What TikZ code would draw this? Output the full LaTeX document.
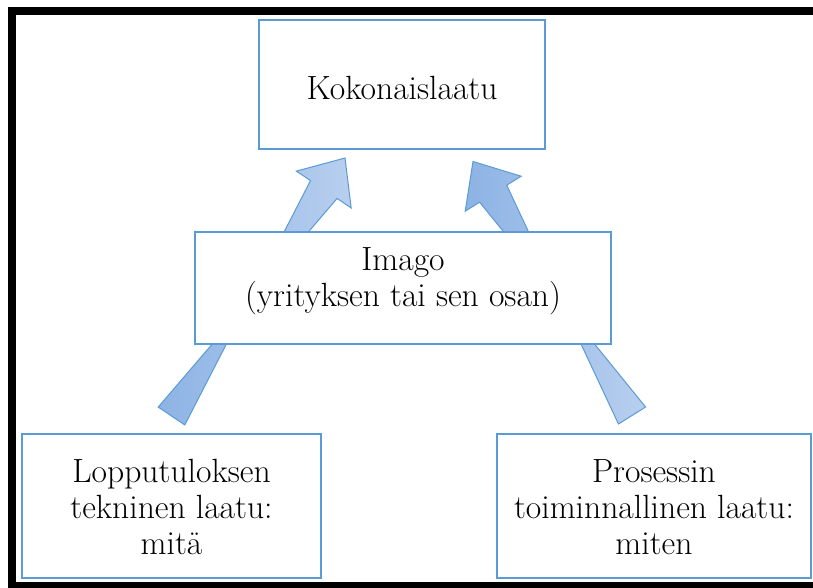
\documentclass[tikz,border=0pt]{standalone}
\usepackage{fontspec}
\usetikzlibrary{calc}
\definecolor{boxblue}{RGB}{91,155,213}
\definecolor{fillA}{RGB}{141,179,228}
\definecolor{fillB}{RGB}{184,207,239}

\begin{document}
\begin{tikzpicture}[x=1pt,y=-1pt,
  qbox/.style={draw=boxblue, line width=1.4pt, fill=white, inner sep=0pt},
  lbl/.style={font=\fontsize{33.6}{36}\selectfont, align=center, anchor=base, inner sep=0pt},
  blockarrow/.style={draw=boxblue, line width=1pt, left color=fillA, right color=fillB}]
\useasboundingbox (0,0) rectangle (813,588);
\fill[white] (0,0) rectangle (813,588);

% outer black frame (runs off the right edge)
\draw[line width=8pt] (12,11) rectangle (840,586);

% box positions (coordinates only, drawn later on top of the arrows)
\coordinate (c-top)   at (402,84.5);
\coordinate (c-img)   at (403,288);
\coordinate (c-left)  at (171.5,506);
\coordinate (c-right) at (654,506);

% block arrows: tail centre -> tip
\coordinate (a1t) at ($(c-left)+(0,-90)$);
\coordinate (a1p) at ($(c-top)+(-57,73.5)$);
\coordinate (a2t) at ($(c-right)+(-22,-90.5)$);
\coordinate (a2p) at ($(c-top)+(71,77)$);

\foreach \t/\p in {a1t/a1p, a2t/a2p}{
  \coordinate (hb) at ($(\p)!38pt!(\t)$);
  \draw[blockarrow]
    ($(\t)!16pt!90:(\p)$) -- ($(hb)!16pt!-90:(\p)$) -- ($(hb)!33pt!-90:(\p)$)
    -- (\p)
    -- ($(hb)!33pt!90:(\p)$) -- ($(hb)!16pt!90:(\p)$) -- ($(\t)!16pt!-90:(\p)$)
    -- cycle;
}

% boxes
\node[qbox, minimum width=286pt, minimum height=129pt] (top) at (c-top) {};
\node[qbox, minimum width=416pt, minimum height=112pt] (img) at (c-img) {};
\node[qbox, minimum width=299pt, minimum height=144pt] (left) at (c-left) {};
\node[qbox, minimum width=314pt, minimum height=144pt] (right) at (c-right) {};

% texts (base anchor = baseline of the last line)
\node[lbl] (t-top) at (402,99.5) {Kokonaislaatu};
\node[lbl] (t-img) at (403,306) {Imago\\(yrityksen tai sen osan)};
\node[lbl] (t-left) at (171.5,554) {Lopputuloksen\\tekninen laatu:\\mitä};
\node[lbl] (t-right) at (654,554) {Prosessin\\toiminnallinen laatu:\\miten};
\end{tikzpicture}
\end{document}
